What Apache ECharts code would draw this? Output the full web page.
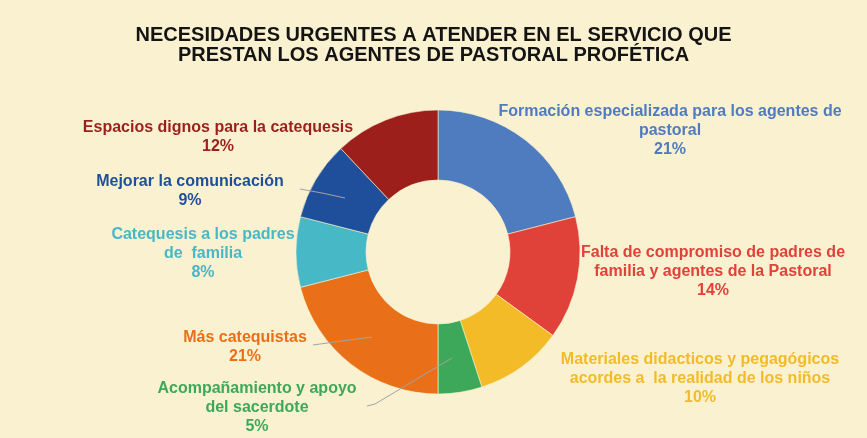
<!DOCTYPE html>
<html>
<head>
<meta charset="utf-8">
<script src="https://cdn.jsdelivr.net/npm/echarts@6/dist/echarts.min.js"></script>
<style>
  html, body { margin: 0; padding: 0; background: #faf1d0; }
  #chart { width: 867px; height: 438px; }
</style>
</head>
<body>
<div id="chart"></div>
<script>
const categories = [
    'Formación especializada para los agentes de\npastoral',
    'Falta de compromiso de padres de\nfamilia y agentes de la Pastoral',
    'Materiales didacticos y pegagógicos\nacordes a  la realidad de los niños',
    'Acompañamiento y apoyo\ndel sacerdote',
    'Más catequistas',
    'Catequesis a los padres\nde  familia',
    'Mejorar la comunicación',
    'Espacios dignos para la catequesis'
]
const percents = [21, 14, 10, 5, 21, 8, 9, 12]
const colors = ['#4f7bbf', '#e0423a', '#f3bb27', '#3ea85a', '#e97018', '#47b8c6', '#1f4f9b', '#9c1f1c']

// label block centres and leader lines
const labelPos = [
    [670, 131], [713, 272], [700, 379], [257, 408],
    [245, 347], [203, 254], [190, 191], [218, 137]
]
const leaders = {
    3: [[452, 358], [375, 404], [367, 406]],
    4: [[372, 337], [342, 341], [313, 345]],
    6: [[345, 198], [322, 193], [300, 189]]
}

const chartDom = document.getElementById('chart')
const myChart = echarts.init(chartDom, null, { width: 867, height: 438 })

const pieBase = {
    type: 'pie',
    center: [438, 252],
    radius: [72, 142],
    startAngle: 90,
    clockwise: true,
    animation: false
}

const option = {
    backgroundColor: '#faf1d0',
    title: {
        left: 'center',
        top: 20,
        text: 'NECESIDADES URGENTES A ATENDER EN EL SERVICIO QUE\nPRESTAN LOS AGENTES DE PASTORAL PROFÉTICA',
        textStyle: {
            fontFamily: 'Liberation Sans',
            fontSize: 20,
            fontWeight: 'bold',
            color: '#141414',
            lineHeight: 20
        }
    },
    series: [
        {
            ...pieBase,
            z: 2,
            itemStyle: {
                borderColor: '#faf1d0',
                borderWidth: 0.6
            },
            label: { show: false },
            labelLine: { show: false },
            data: categories.map((name, i) => ({
                name,
                value: percents[i],
                itemStyle: { color: colors[i] }
            }))
        },
        {
            // transparent copy on top, carries the labels and leader lines
            ...pieBase,
            z: 3,
            silent: true,
            itemStyle: { color: 'rgba(0,0,0,0)', borderWidth: 0 },
            data: categories.map((name, i) => ({
                name,
                value: percents[i],
                label: { color: colors[i] },
                labelLine: { show: leaders[i] !== undefined }
            })),
            label: {
                show: true,
                position: 'outside',
                formatter: (p) => p.name + '\n' + p.value + '%',
                fontFamily: 'Liberation Sans',
                fontSize: 16,
                fontWeight: 'bold',
                lineHeight: 19,
                align: 'center',
                overflow: 'none'
            },
            labelLine: {
                showAbove: true,
                lineStyle: { color: '#a3a3a3', width: 1 }
            },
            labelLayout: (params) => {
                const i = params.dataIndex
                const res = {
                    x: labelPos[i][0],
                    y: labelPos[i][1],
                    align: 'center',
                    verticalAlign: 'middle'
                }
                if (leaders[i]) res.labelLinePoints = leaders[i]
                return res
            }
        }
    ]
}

option && myChart.setOption(option)
</script>
</body>
</html>
